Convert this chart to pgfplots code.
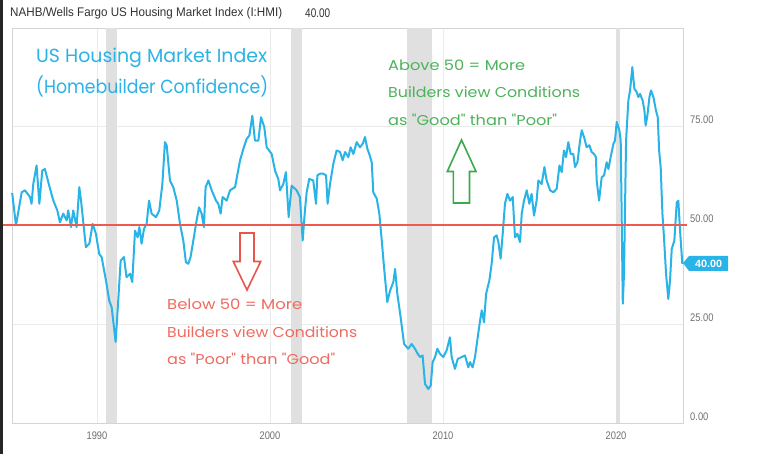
\documentclass[border=0pt]{standalone}
\usepackage{pgfplots}
\pgfplotsset{compat=1.18}
\usepackage{fontspec}
\setmainfont{Liberation Sans}
\newfontfamily\hand{Poppins}
\definecolor{hmi}{HTML}{29B3E6}
\definecolor{fiftyred}{HTML}{EE5A50}
\definecolor{recgray}{HTML}{E0E0E0}
\definecolor{gridgray}{HTML}{EBEBEB}
\definecolor{bordergray}{HTML}{D4D4D4}
\definecolor{tickgray}{HTML}{707070}
\definecolor{greentxt}{HTML}{4DB35B}
\definecolor{greenarr}{HTML}{3AAA4E}
\definecolor{redtxt}{HTML}{EF6B5F}
\definecolor{redarr}{HTML}{E9554C}
\definecolor{headtxt}{HTML}{333333}
\newcommand{\tl}[1]{\scalebox{0.85}[1]{#1}}
\begin{document}
\begin{tikzpicture}[x=1pt,y=1pt]
\useasboundingbox (0,0) rectangle (758,454);
\fill[white] (0,0) rectangle (758,454);
\fill[black!85] (0,0) rectangle (3,454);
\begin{axis}[
  at={(12pt,31pt)}, anchor=south west, scale only axis,
  width=671pt, height=395pt,
  xmin=1985.09, xmax=2023.87, ymin=0, ymax=100,
  clip=false,
  axis line style={draw=bordergray, line width=0.8pt},
  xtick={1990,2000,2010,2020}, xticklabels={\tl{1990},\tl{2000},\tl{2010},\tl{2020}},
  ytick={0,25,50,75}, yticklabels={\tl{0.00},\tl{25.00},\tl{50.00},\tl{75.00}},
  grid=major, grid style={draw=gridgray, line width=0.8pt},
  major tick length=0pt,
  yticklabel pos=right,
  xticklabel style={font=\fontsize{11}{13}\selectfont, text=tickgray, inner sep=0pt, anchor=north, yshift=-9pt},
  yticklabel style={font=\fontsize{11}{13}\selectfont, text=tickgray, inner sep=0pt, anchor=west, xshift=7pt, yshift=6.7pt},
]
% recession bands
\addplot[fill=recgray, draw=none] coordinates {(1990.52,100) (1991.14,100)} \closedcycle;
\addplot[fill=recgray, draw=none] coordinates {(2001.20,100) (2001.83,100)} \closedcycle;
\addplot[fill=recgray, draw=none] coordinates {(2007.90,100) (2009.38,100)} \closedcycle;
\addplot[fill=recgray, draw=none] coordinates {(2020.00,100) (2020.25,100)} \closedcycle;
% HMI
\addplot[draw=hmi, line width=2pt, line join=round, mark=none] coordinates {
(1985.10,58.2) (1985.32,50.0) (1985.65,58.4) (1985.84,58.9) (1986.13,57.2) (1986.22,55.5)
(1986.32,60.5) (1986.51,65.2) (1986.67,55.5) (1986.84,63.9) (1986.99,64.3) (1987.24,60.1)
(1987.48,56.3) (1987.71,53.8) (1987.86,50.8) (1988.05,53.0) (1988.25,51.3) (1988.34,53.8)
(1988.50,49.6) (1988.63,53.8) (1988.82,49.6) (1988.98,59.7) (1989.08,56.3) (1989.21,50.8)
(1989.36,44.5) (1989.56,45.4) (1989.75,50.4) (1989.94,47.9) (1990.13,42.8) (1990.27,42.0)
(1990.52,36.1) (1990.71,31.0) (1990.85,29.3) (1991.08,20.5) (1991.23,31.0) (1991.37,41.1)
(1991.56,42.0) (1991.71,36.9) (1991.91,37.8) (1992.04,35.7) (1992.20,48.7) (1992.35,47.0)
(1992.45,49.6) (1992.58,45.4) (1992.72,49.2) (1992.87,50.4) (1993.01,56.3) (1993.16,53.0)
(1993.41,52.1) (1993.60,53.8) (1993.78,60.5) (1993.93,71.1) (1994.03,70.3) (1994.22,61.4)
(1994.41,59.7) (1994.61,56.3) (1994.80,50.4) (1994.99,46.2) (1995.14,40.7) (1995.28,40.3)
(1995.41,42.0) (1995.57,46.2) (1995.76,51.3) (1995.90,54.6) (1996.05,53.0) (1996.18,49.6)
(1996.28,59.7) (1996.44,61.4) (1996.63,58.9) (1996.88,56.3) (1997.01,55.5) (1997.15,53.0)
(1997.26,57.2) (1997.50,56.3) (1997.69,58.9) (1997.98,59.7) (1998.07,61.8) (1998.27,66.5)
(1998.46,69.4) (1998.65,71.9) (1998.81,72.8) (1998.98,77.8) (1999.13,71.5) (1999.33,71.5)
(1999.48,77.4) (1999.67,74.9) (1999.81,69.8) (2000.10,68.1) (2000.29,63.9) (2000.48,61.8)
(2000.58,58.9) (2000.77,60.5) (2000.92,63.5) (2001.08,52.1) (2001.25,60.1) (2001.54,58.9)
(2001.73,57.2) (2001.89,46.2) (2002.02,53.8) (2002.12,58.4) (2002.27,61.8) (2002.50,61.4)
(2002.66,55.5) (2002.74,62.7) (2002.89,63.1) (2003.08,63.1) (2003.24,62.7) (2003.33,55.5)
(2003.47,60.5) (2003.66,65.6) (2003.85,69.0) (2004.05,68.6) (2004.20,66.5) (2004.34,68.6)
(2004.53,67.3) (2004.66,69.8) (2004.82,68.1) (2005.01,71.1) (2005.20,69.8) (2005.36,70.7)
(2005.49,72.4) (2005.63,69.4) (2005.74,68.1) (2005.88,66.0) (2005.97,58.4) (2006.17,56.8)
(2006.32,53.0) (2006.46,46.2) (2006.59,39.5) (2006.78,30.6) (2006.94,33.5) (2007.13,35.7)
(2007.23,39.0) (2007.36,32.7) (2007.55,26.8) (2007.75,20.0) (2007.99,18.8) (2008.19,20.0)
(2008.38,18.8) (2008.54,17.5) (2008.67,16.7) (2008.82,17.1) (2008.96,9.9) (2009.15,8.6)
(2009.29,9.5) (2009.40,15.4) (2009.54,16.7) (2009.67,18.8) (2009.83,17.5) (2010.02,16.7)
(2010.21,18.4) (2010.40,21.7) (2010.50,16.7) (2010.69,13.7) (2010.85,16.2) (2011.08,16.7)
(2011.27,17.1) (2011.46,14.1) (2011.56,15.4) (2011.71,14.1) (2011.85,16.7) (2011.98,20.9)
(2012.14,25.9) (2012.24,28.5) (2012.37,25.5) (2012.49,32.7) (2012.68,36.1) (2012.81,40.3)
(2012.95,47.0) (2013.10,47.5) (2013.20,45.8) (2013.33,41.6) (2013.45,47.9) (2013.58,55.5)
(2013.72,58.0) (2013.87,56.3) (2014.03,57.2) (2014.16,47.0) (2014.30,47.9) (2014.45,45.8)
(2014.55,53.0) (2014.68,56.3) (2014.84,58.9) (2014.99,55.5) (2015.12,58.0) (2015.26,52.5)
(2015.41,56.3) (2015.51,61.4) (2015.70,60.5) (2015.86,64.8) (2015.99,61.4) (2016.19,58.9)
(2016.38,58.4) (2016.57,59.3) (2016.73,65.2) (2016.86,63.5) (2016.99,69.0) (2017.11,67.3)
(2017.24,71.1) (2017.38,68.1) (2017.53,68.1) (2017.63,64.8) (2017.77,66.0) (2017.92,71.5)
(2018.02,74.1) (2018.15,72.4) (2018.30,69.8) (2018.46,70.3) (2018.59,68.6) (2018.73,68.1)
(2018.84,67.3) (2018.88,61.4) (2019.02,56.3) (2019.17,62.2) (2019.31,62.7) (2019.46,66.0)
(2019.56,64.3) (2019.69,67.3) (2019.85,70.7) (2019.94,71.5) (2020.04,76.2) (2020.19,74.1)
(2020.27,71.5) (2020.39,30.2) (2020.46,37.8) (2020.58,71.5) (2020.71,81.6) (2020.81,84.2)
(2020.94,90.1) (2021.06,84.6) (2021.19,83.8) (2021.29,82.5) (2021.39,83.3) (2021.54,81.6)
(2021.64,79.1) (2021.71,75.3) (2021.81,77.8) (2021.93,82.5) (2022.02,84.2) (2022.16,82.5)
(2022.31,79.1) (2022.41,77.4) (2022.49,69.0) (2022.58,64.8) (2022.68,53.0) (2022.77,47.0)
(2022.89,37.8) (2023.02,31.4) (2023.12,36.1) (2023.22,44.1) (2023.37,46.2) (2023.51,55.9)
(2023.60,56.3) (2023.70,48.7) (2023.83,40.3)
};
% 50 line
\addplot[draw=fiftyred, line width=2pt, mark=none] coordinates {(1984.57,50) (2024.10,50)};
\end{axis}
% header
\node[anchor=west, inner sep=0, text=headtxt] at (10,441) {\resizebox{272pt}{\height}{\fontsize{12.5}{14}\selectfont NAHB/Wells Fargo US Housing Market Index (I:HMI)}};
\node[anchor=west, inner sep=0, text=headtxt] at (305,441) {\resizebox{25pt}{\height}{\fontsize{12.5}{14}\selectfont 40.00}};
% last value badge
\fill[hmi] (683,191) -- (689,198) -- (728,198) -- (728,183) -- (689,183) -- cycle;
\node[inner sep=0, text=white] at (708.5,190.5) {\resizebox{27pt}{\height}{\fontsize{10.5}{12}\selectfont\bfseries 40.00}};
% title
\node[anchor=base west, inner sep=0, text=hmi] at (36,391.3) {\resizebox{231pt}{\height}{\hand\fontsize{19}{21}\selectfont US Housing Market Index}};
\node[anchor=base west, inner sep=0, text=hmi] at (36,360) {\resizebox{232pt}{\height}{\hand\fontsize{19}{21}\selectfont (Homebuilder Confidence)}};
% green annotation
\node[anchor=base west, inner sep=0, text=greentxt] at (388,383.3) {\resizebox{137pt}{\height}{\hand\fontsize{14.3}{16}\selectfont Above 50 = More}};
\node[anchor=base west, inner sep=0, text=greentxt] at (388,356.7) {\resizebox{192pt}{\height}{\hand\fontsize{14.3}{16}\selectfont Builders view Conditions}};
\node[anchor=base west, inner sep=0, text=greentxt] at (388,328) {\resizebox{169pt}{\height}{\hand\fontsize{14.3}{16}\selectfont as "Good" than "Poor"}};
\draw[greenarr, line width=1.6pt, fill=white, line join=miter] (453.3,251) -- (453.3,282.5) -- (447.3,282.5) -- (461.5,314) -- (476,282.5) -- (469.5,282.5) -- (469.5,251) -- cycle;
% red annotation
\node[anchor=base west, inner sep=0, text=redtxt] at (167,144) {\resizebox{135pt}{\height}{\hand\fontsize{14.3}{16}\selectfont Below 50 = More}};
\node[anchor=base west, inner sep=0, text=redtxt] at (167,116.7) {\resizebox{190pt}{\height}{\hand\fontsize{14.3}{16}\selectfont Builders view Conditions}};
\node[anchor=base west, inner sep=0, text=redtxt] at (167,89) {\resizebox{168pt}{\height}{\hand\fontsize{14.3}{16}\selectfont as "Poor" than "Good"}};
\draw[redarr, line width=1.6pt, fill=white, line join=miter] (240,221) -- (240,192.5) -- (233.3,192.5) -- (247,164) -- (260.7,192.5) -- (254,192.5) -- (254,221) -- cycle;
\end{tikzpicture}
\end{document}
